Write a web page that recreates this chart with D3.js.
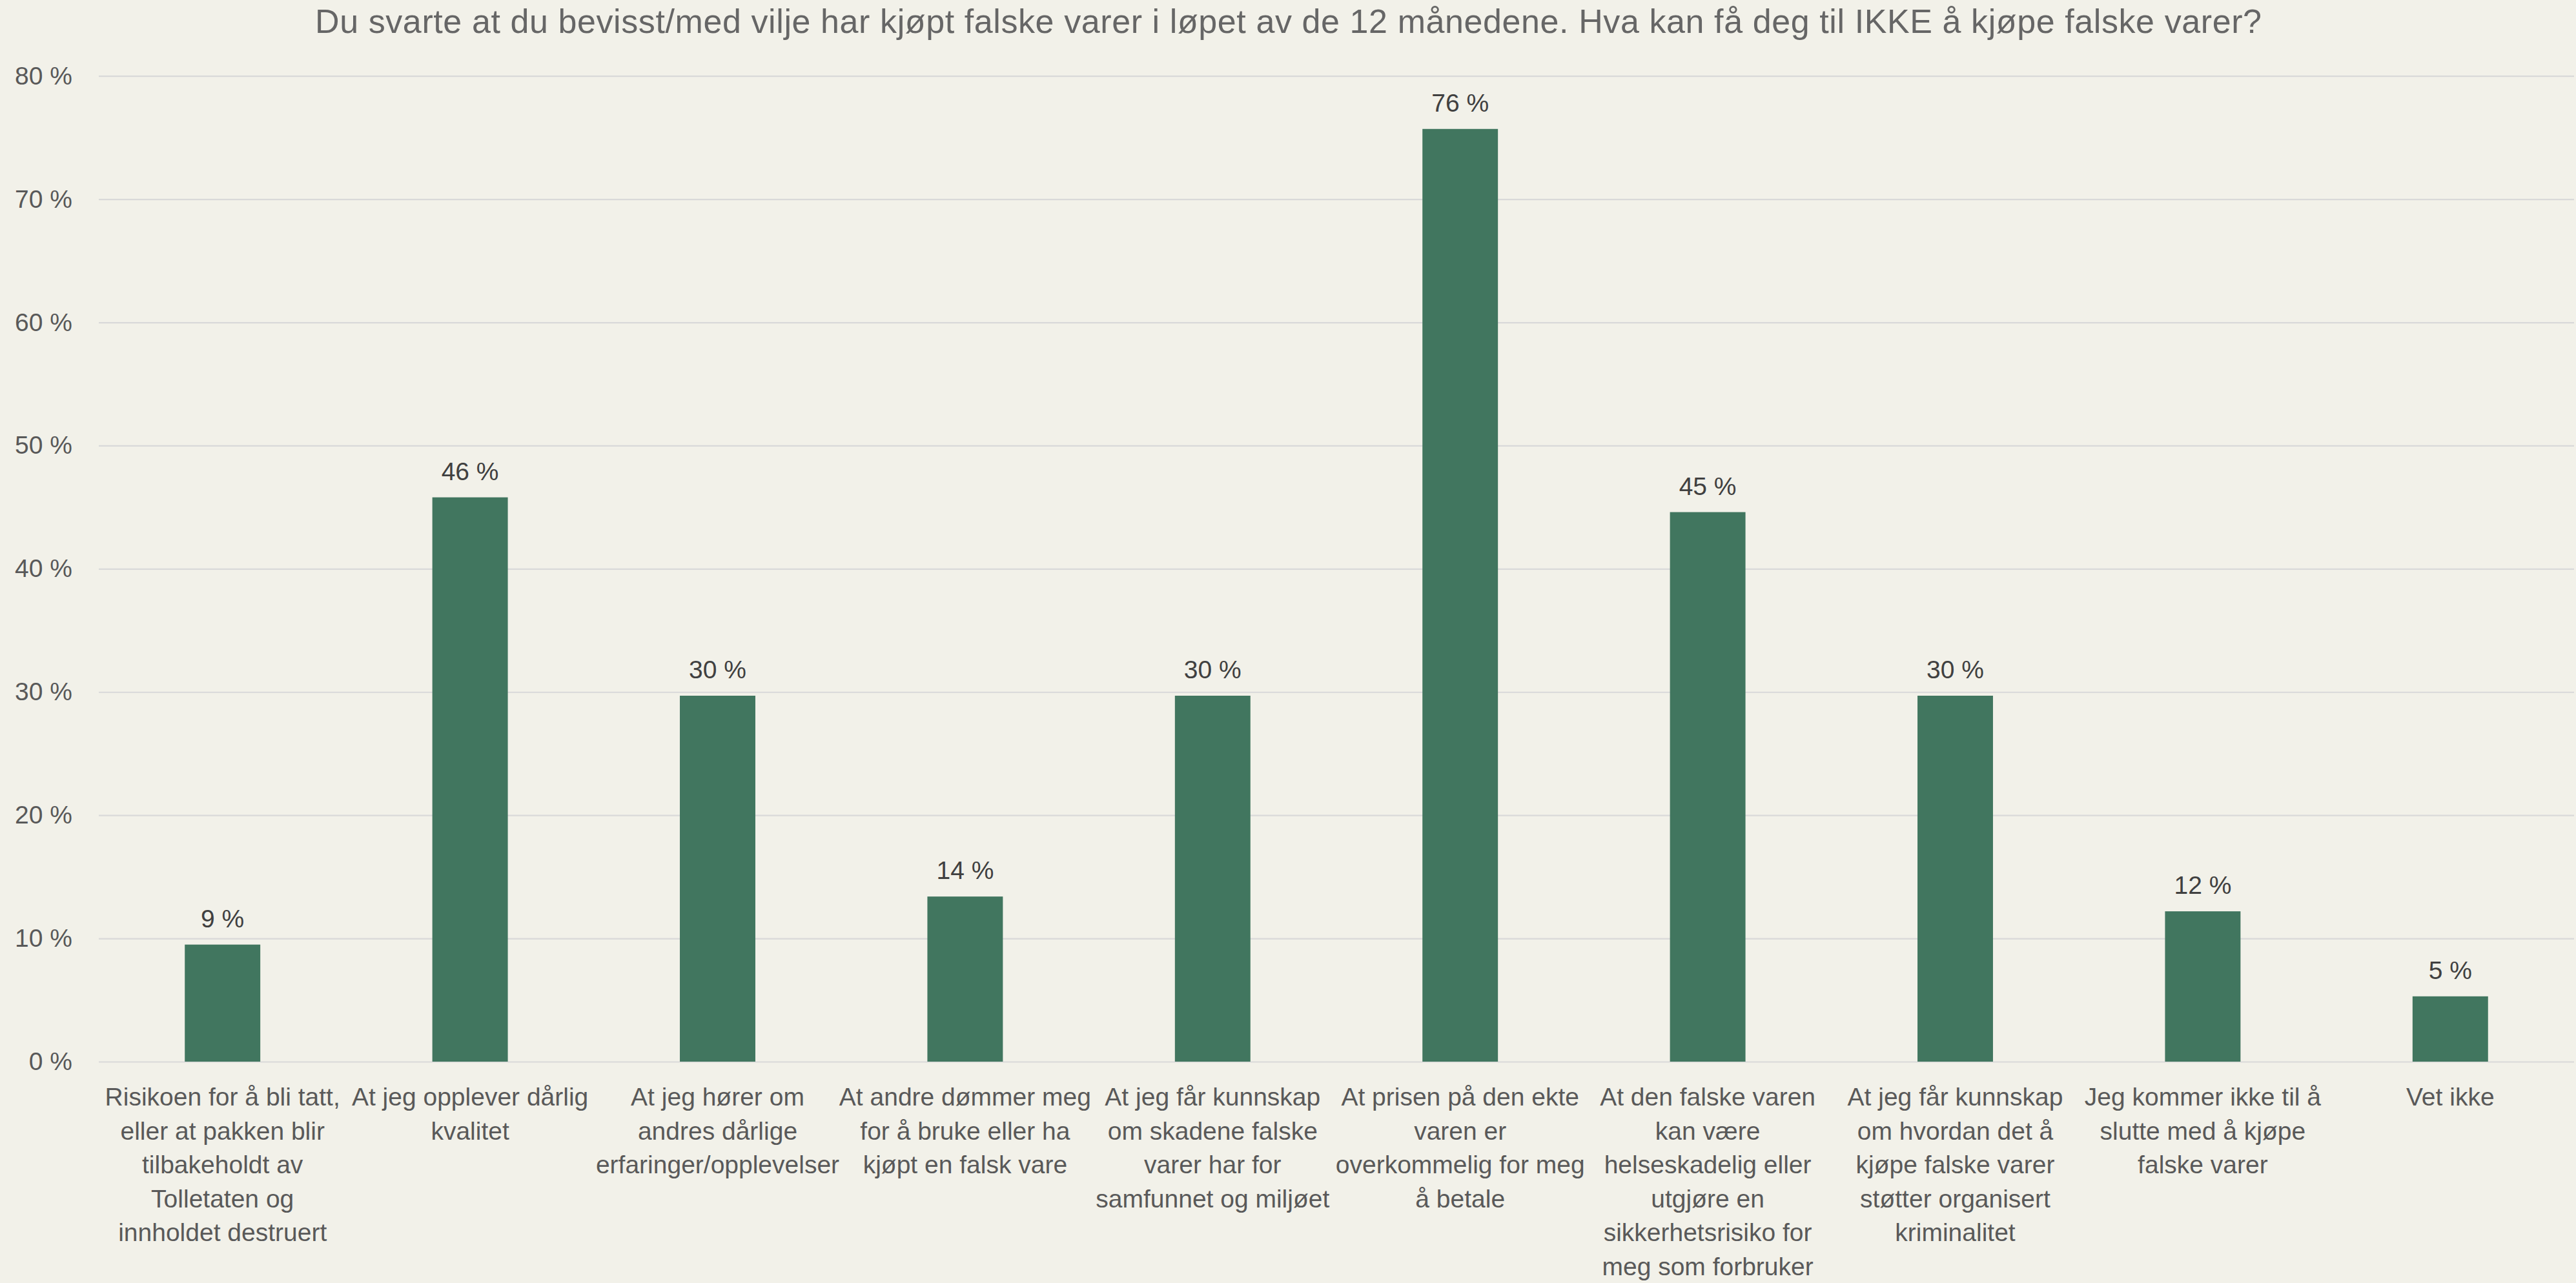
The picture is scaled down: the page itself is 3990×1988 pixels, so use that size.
<!DOCTYPE html>
<html>
<head>
<meta charset="utf-8">
<script src="https://cdn.jsdelivr.net/npm/d3@7"></script>
<style>
  html, body { margin: 0; padding: 0; background: #F2F1E9; }
  svg { display: block; }
</style>
</head>
<body>
<script>
const title = "Du svarte at du bevisst/med vilje har kjøpt falske varer i løpet av de 12 månedene. Hva kan få deg til IKKE å kjøpe falske varer?";
const categories = [
  "Risikoen for å bli tatt,\neller at pakken blir\ntilbakeholdt av\nTolletaten og\ninnholdet destruert",
  "At jeg opplever dårlig\nkvalitet",
  "At jeg hører om\nandres dårlige\nerfaringer/opplevelser",
  "At andre dømmer meg\nfor å bruke eller ha\nkjøpt en falsk vare",
  "At jeg får kunnskap\nom skadene falske\nvarer har for\nsamfunnet og miljøet",
  "At prisen på den ekte\nvaren er\noverkommelig for meg\nå betale",
  "At den falske varen\nkan være\nhelseskadelig eller\nutgjøre en\nsikkerhetsrisiko for\nmeg som forbruker",
  "At jeg får kunnskap\nom hvordan det å\nkjøpe falske varer\nstøtter organisert\nkriminalitet",
  "Jeg kommer ikke til å\nslutte med å kjøpe\nfalske varer",
  "Vet ikke"
];
const values = [9.5, 45.8, 29.7, 13.4, 29.7, 75.7, 44.6, 29.7, 12.2, 5.3];
const valueLabels = ["9 %", "46 %", "30 %", "14 %", "30 %", "76 %", "45 %", "30 %", "12 %", "5 %"];
const yTicks = [0, 10, 20, 30, 40, 50, 60, 70, 80];

const W = 3990, H = 1988;
const plot = { left: 153, right: 3987, top: 117.7, bottom: 1645 };
const font = "'Liberation Sans', Arial, sans-serif";

const svg = d3.select("body").append("svg")
  .attr("width", W).attr("height", H)
  .style("background", "#F2F1E9");

svg.append("rect").attr("width", W).attr("height", H).attr("fill", "#F2F1E9");

const x = d3.scaleBand().domain(categories)
  .range([plot.left, plot.right])
  .paddingInner(0.695).paddingOuter(0.3475);
const y = d3.scaleLinear().domain([0, 80]).range([plot.bottom, plot.top]);

// title
svg.append("text")
  .attr("x", 488).attr("y", 51)
  .attr("font-family", font).attr("font-size", 52)
  .attr("textLength", 3015).attr("lengthAdjust", "spacing")
  .attr("fill", "#666666")
  .text(title);

// y axis with gridlines
const yAxis = d3.axisLeft(y).tickValues(yTicks)
  .tickFormat(d => d + " %")
  .tickSize(-(plot.right - plot.left))
  .tickPadding(41);
const gy = svg.append("g").attr("transform", `translate(${plot.left},0)`).call(yAxis);
gy.select(".domain").remove();
gy.selectAll(".tick line").attr("stroke", "#D9D9D9").attr("stroke-width", 2.2);
gy.selectAll(".tick text")
  .attr("font-family", font).attr("font-size", 39)
  .attr("fill", "#595959");

// bars
svg.append("g").selectAll("rect").data(values).join("rect")
  .attr("x", (d, i) => x(categories[i]))
  .attr("width", x.bandwidth())
  .attr("y", d => y(d))
  .attr("height", d => y(0) - y(d))
  .attr("fill", "#41765F");

// value labels
svg.append("g").selectAll("text").data(values).join("text")
  .attr("x", (d, i) => x(categories[i]) + x.bandwidth() / 2)
  .attr("y", d => y(d) - 27)
  .attr("text-anchor", "middle")
  .attr("font-family", font).attr("font-size", 39)
  .attr("fill", "#404040")
  .text((d, i) => valueLabels[i]);

// category labels
const cg = svg.append("g");
categories.forEach(c => {
  const t = cg.append("text")
    .attr("x", x(c) + x.bandwidth() / 2)
    .attr("y", 1713)
    .attr("text-anchor", "middle")
    .attr("font-family", font).attr("font-size", 39)
    .attr("fill", "#595959");
  c.split("\n").forEach((line, k) => {
    t.append("tspan").attr("x", x(c) + x.bandwidth() / 2)
      .attr("y", 1713 + k * 52.5).text(line);
  });
});
</script>
</body>
</html>
